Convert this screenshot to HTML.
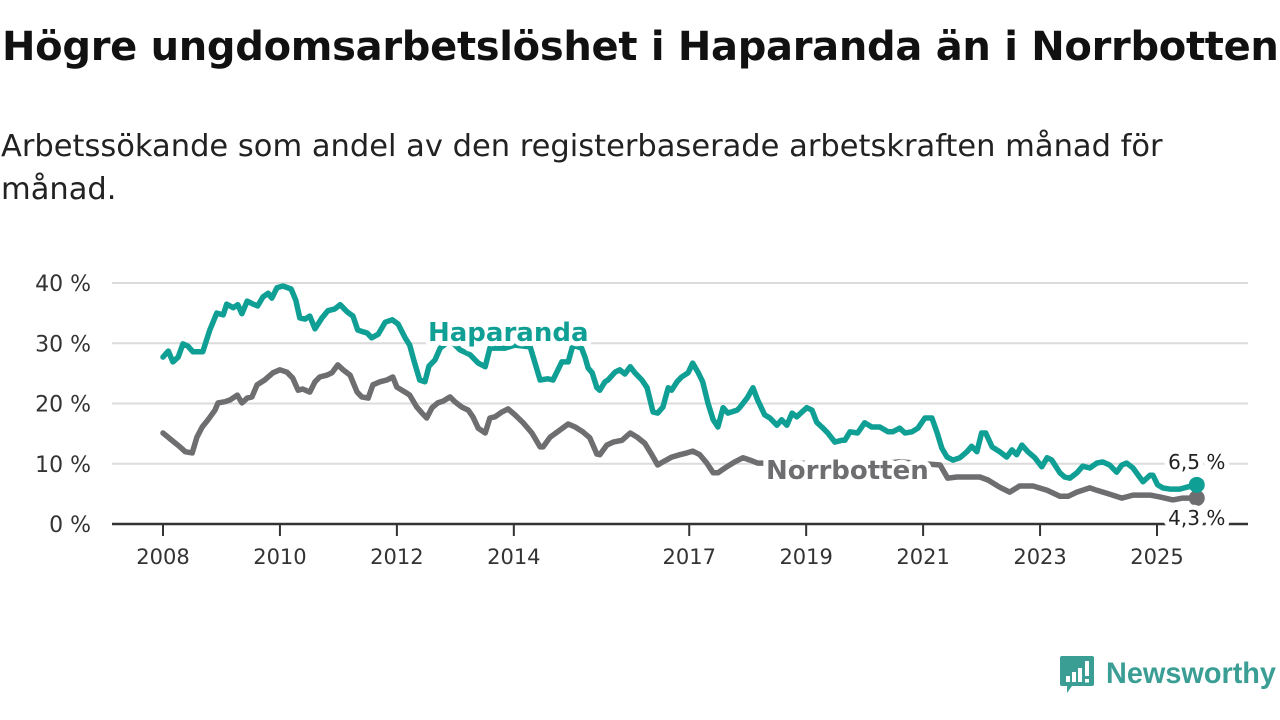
<!DOCTYPE html>
<html><head><meta charset="utf-8">
<style>
body{margin:0;background:#fff;width:1280px;height:720px;overflow:hidden;font-family:"Liberation Sans","DejaVu Sans",sans-serif;}
#title{position:absolute;left:2px;top:24px;font-size:40px;font-weight:bold;color:#111;margin:0;white-space:nowrap;font-family:"DejaVu Sans","Liberation Sans",sans-serif;letter-spacing:-0.3px}
#sub{position:absolute;left:1px;top:125px;font-size:30.5px;color:#222;width:1200px;line-height:43px;font-family:"DejaVu Sans","Liberation Sans",sans-serif;letter-spacing:0px}
svg{position:absolute;left:0;top:0}
</style></head><body>
<h1 id="title">Högre ungdomsarbetslöshet i Haparanda än i Norrbotten</h1>
<div id="sub">Arbetssökande som andel av den registerbaserade arbetskraften månad för månad.</div>
<svg id="chart" width="1280" height="720"></svg>
<script>
const yTicks=[0,10,20,30,40];
const xTickYears=[2008,2010,2012,2014,2017,2019,2021,2023,2025];
const hapYears=[2008.00,2008.09,2008.17,2008.26,2008.34,2008.43,2008.51,2008.68,2008.80,2008.92,2009.03,2009.09,2009.20,2009.28,2009.35,2009.44,2009.54,2009.62,2009.71,2009.80,2009.86,2009.95,2010.05,2010.19,2010.27,2010.34,2010.43,2010.51,2010.60,2010.72,2010.82,2010.94,2011.03,2011.15,2011.25,2011.33,2011.42,2011.49,2011.57,2011.68,2011.80,2011.92,2012.02,2012.14,2012.22,2012.29,2012.39,2012.48,2012.55,2012.65,2012.74,2012.91,2013.08,2013.25,2013.39,2013.51,2013.59,2013.85,2014.02,2014.28,2014.45,2014.58,2014.67,2014.82,2014.93,2015.01,2015.16,2015.22,2015.27,2015.34,2015.42,2015.47,2015.56,2015.61,2015.73,2015.81,2015.90,2015.99,2016.07,2016.19,2016.28,2016.38,2016.46,2016.55,2016.64,2016.70,2016.79,2016.87,2016.98,2017.06,2017.15,2017.23,2017.32,2017.41,2017.49,2017.58,2017.66,2017.82,2017.87,2017.99,2018.09,2018.17,2018.29,2018.38,2018.50,2018.58,2018.67,2018.76,2018.84,2018.93,2019.01,2019.10,2019.18,2019.29,2019.37,2019.49,2019.61,2019.66,2019.75,2019.88,2020.00,2020.12,2020.26,2020.40,2020.48,2020.60,2020.69,2020.81,2020.91,2021.03,2021.15,2021.24,2021.32,2021.41,2021.51,2021.63,2021.75,2021.83,2021.92,2022.00,2022.07,2022.18,2022.31,2022.43,2022.52,2022.60,2022.69,2022.79,2022.91,2023.03,2023.12,2023.20,2023.34,2023.42,2023.51,2023.63,2023.73,2023.85,2023.97,2024.07,2024.19,2024.31,2024.40,2024.48,2024.59,2024.76,2024.88,2024.93,2025.01,2025.10,2025.22,2025.39,2025.51,2025.68];
const hapValues=[27.7,28.7,26.9,27.7,29.9,29.5,28.6,28.6,32.2,35.0,34.7,36.5,35.9,36.4,34.9,37.0,36.5,36.2,37.7,38.3,37.5,39.2,39.5,39.0,37.2,34.2,34.0,34.5,32.4,34.2,35.4,35.7,36.4,35.2,34.5,32.2,31.9,31.7,30.9,31.5,33.5,33.9,33.2,30.9,29.7,27.2,23.9,23.6,26.2,27.2,29.2,30.5,28.9,28.1,26.7,26.1,29.2,29.2,29.7,29.4,23.9,24.1,23.9,26.9,26.9,29.7,29.2,27.6,25.9,25.1,22.6,22.2,23.6,23.9,25.2,25.6,24.9,26.1,25.1,23.9,22.6,18.6,18.4,19.4,22.6,22.2,23.6,24.4,25.1,26.7,25.2,23.6,20.1,17.3,16.1,19.3,18.4,18.9,19.4,20.9,22.6,20.6,18.1,17.6,16.4,17.3,16.4,18.4,17.8,18.6,19.3,18.9,16.9,15.9,15.1,13.6,13.9,13.9,15.3,15.1,16.8,16.1,16.1,15.3,15.3,15.9,15.1,15.3,15.9,17.6,17.6,15.1,12.6,11.1,10.6,11.0,12.0,12.9,12.0,15.1,15.1,12.8,12.0,11.1,12.3,11.5,13.1,12.0,11.0,9.5,11.0,10.6,8.5,7.8,7.6,8.5,9.6,9.3,10.1,10.3,9.8,8.6,9.8,10.1,9.3,7.0,8.1,8.1,6.5,6.0,5.8,5.8,6.1,6.5];
const norYears=[2008.00,2008.15,2008.29,2008.38,2008.50,2008.58,2008.67,2008.77,2008.89,2008.94,2009.06,2009.15,2009.27,2009.35,2009.44,2009.52,2009.61,2009.74,2009.88,2010.00,2010.12,2010.22,2010.31,2010.39,2010.51,2010.60,2010.68,2010.80,2010.89,2010.99,2011.08,2011.20,2011.32,2011.40,2011.51,2011.59,2011.71,2011.83,2011.93,2012.00,2012.14,2012.22,2012.34,2012.43,2012.51,2012.60,2012.70,2012.79,2012.91,2012.99,2013.11,2013.22,2013.30,2013.39,2013.51,2013.59,2013.68,2013.80,2013.90,2014.02,2014.16,2014.31,2014.45,2014.50,2014.62,2014.79,2014.93,2015.05,2015.18,2015.30,2015.42,2015.47,2015.59,2015.70,2015.85,2015.99,2016.11,2016.24,2016.36,2016.46,2016.55,2016.70,2016.84,2016.96,2017.06,2017.18,2017.30,2017.41,2017.49,2017.64,2017.78,2017.92,2018.04,2018.17,2018.89,2019.75,2020.60,2021.29,2021.42,2021.58,2021.80,2021.97,2022.11,2022.31,2022.48,2022.65,2022.88,2023.12,2023.34,2023.48,2023.63,2023.85,2023.97,2024.14,2024.40,2024.59,2024.88,2025.05,2025.27,2025.44,2025.68];
const norValues=[15.1,13.9,12.8,12.0,11.8,14.4,16.1,17.3,18.9,20.1,20.3,20.6,21.4,20.1,20.9,21.1,23.1,23.9,25.1,25.6,25.2,24.2,22.2,22.4,21.9,23.6,24.4,24.7,25.1,26.4,25.6,24.7,21.9,21.1,20.9,23.1,23.6,23.9,24.4,22.7,21.9,21.4,19.4,18.4,17.6,19.3,20.1,20.4,21.1,20.3,19.4,18.9,17.8,15.9,15.1,17.6,17.8,18.6,19.1,18.1,16.8,15.1,12.8,12.8,14.4,15.6,16.6,16.1,15.3,14.3,11.6,11.5,13.1,13.6,13.9,15.1,14.4,13.4,11.5,9.8,10.3,11.1,11.5,11.8,12.1,11.5,10.1,8.5,8.5,9.5,10.3,11.0,10.6,10.1,10.1,9.6,10.3,9.8,7.6,7.8,7.8,7.8,7.3,6.1,5.3,6.3,6.3,5.6,4.6,4.6,5.3,6.0,5.6,5.1,4.3,4.8,4.8,4.5,4.0,4.3,4.3];
const lastLabels=["6,5 %","4,3 %"];

const NS="http://www.w3.org/2000/svg";
const svg=document.getElementById('chart');
const X=y=>163+(y-2008)*(994/17);
const Y=v=>524-v*6.025;
function mk(tag,attrs,parent){const e=document.createElementNS(NS,tag);for(const k in attrs)e.setAttribute(k,attrs[k]);(parent||svg).appendChild(e);return e;}
const TEAL="#109f95",GRAY="#6e6d70";
yTicks.forEach(t=>{
  if(t>0){const g=mk('line',{x1:112,x2:1248,y1:Y(t),y2:Y(t),stroke:'#dcdcdc','stroke-width':2});
  
  }
  const l=mk('text',{x:91,y:Y(t)+8,'text-anchor':'end','font-size':22,fill:'#333','font-family':'"DejaVu Sans","Liberation Sans",sans-serif'});
  l.textContent=t+' %';
  
  
});
const ax=mk('line',{x1:112,x2:1248,y1:524,y2:524,stroke:'#333','stroke-width':2.5});


xTickYears.forEach(yr=>{
  const tk=mk('line',{x1:X(yr),x2:X(yr),y1:524,y2:536,stroke:'#333','stroke-width':2});
  
  
  const l=mk('text',{x:X(yr),y:564,'text-anchor':'middle','font-size':21,fill:'#333','font-family':'"DejaVu Sans","Liberation Sans",sans-serif'});
  l.textContent=yr;
  
  
});
function line(ys,vs,color,name){
  const d=ys.map((y,i)=>(i?'L':'M')+X(y).toFixed(1)+','+Y(vs[i]).toFixed(1)).join('');
  const p=mk('path',{d:d,fill:'none',stroke:color,'stroke-width':5.5,'stroke-linejoin':'round','stroke-linecap':'round'});
  
  
}
line(norYears,norValues,GRAY,'norrbotten-line');
line(hapYears,hapValues,TEAL,'haparanda-line');
function halo(x,y,txt,color,size,weight,anchor,name){
  const t=mk('text',{x:x,y:y,fill:color,'font-size':size,'font-weight':weight,'text-anchor':anchor,stroke:'#fff','stroke-width':10,'paint-order':'stroke','stroke-linejoin':'round','font-family':'"DejaVu Sans","Liberation Sans",sans-serif'});
  t.textContent=txt;
  
  
}
halo(428,341,'Haparanda',TEAL,26,'bold','start','haparanda-label');
halo(766,479,'Norrbotten',GRAY,26,'bold','start','norrbotten-label');
const nl=norYears.length-1, hl=hapYears.length-1;
const d1=mk('circle',{cx:X(norYears[nl]),cy:Y(norValues[nl]),r:8,fill:GRAY});


const d2=mk('circle',{cx:X(hapYears[hl]),cy:Y(hapValues[hl]),r:8,fill:TEAL});


halo(X(hapYears[hl]),Y(hapValues[hl])-16,lastLabels[0],'#222',20,'normal','middle','haparanda-end-label');
halo(X(norYears[nl]),Y(norValues[nl])+27,lastLabels[1],'#222',20,'normal','middle','norrbotten-end-label');
// logo
const lg=mk('g',{});


mk('path',{d:'M1062,656 h30 a2,2 0 0 1 2,2 v26 a2,2 0 0 1 -2,2 h-20 l-5,7 v-7 h-5 a2,2 0 0 1 -2,-2 v-26 a2,2 0 0 1 2,-2z',fill:'#3a9e94'},lg);
[[1066,676,4,6],[1072,672,4,10],[1078,668,4,14]].forEach(b=>mk('rect',{x:b[0],y:b[1],width:b[2],height:b[3],fill:'#fff'},lg));
mk('rect',{x:1085,y:661,width:4,height:15,fill:'#fff'},lg);
mk('rect',{x:1085,y:679,width:4,height:3.5,fill:'#fff'},lg);
const lt=mk('text',{x:1106,y:683,fill:'#3a9e94','font-size':30,'font-weight':'bold','font-family':'"Liberation Sans",sans-serif','textLength':170,'lengthAdjust':'spacingAndGlyphs'},lg);
lt.textContent='Newsworthy';
</script>
</body></html>
